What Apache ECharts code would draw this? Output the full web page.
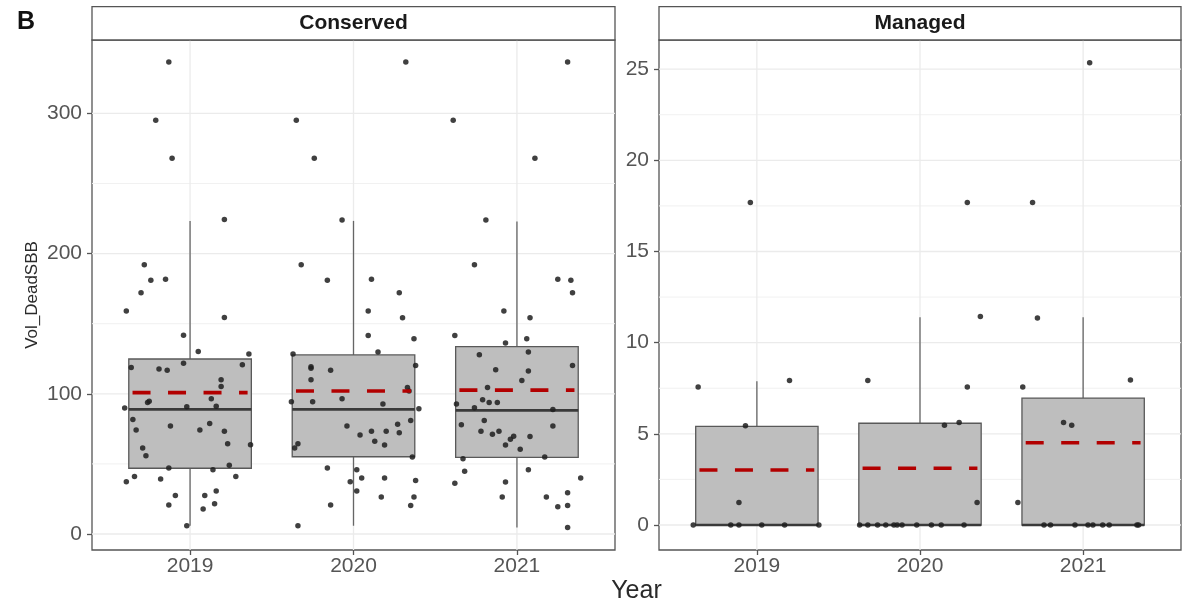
<!DOCTYPE html>
<html>
<head>
<meta charset="utf-8">
<script src="https://cdn.jsdelivr.net/npm/echarts@6/dist/echarts.min.js"></script>
<style>html,body{margin:0;padding:0;background:#fff}#c{width:1192px;height:602px}</style>
</head>
<body>
<div id="c"></div>
<script>
// ---------------- data ----------------
const categories = ['2019', '2020', '2021'];
const panelTitles = ['Conserved', 'Managed'];
const yTitle = 'Vol_DeadSBB';
const xTitle = 'Year';
const figureTag = 'B';

const consTicks = [0, 100, 200, 300];
const consMinor = [50, 150, 250];
const manTicks = [0, 5, 10, 15, 20, 25];
const manMinor = [2.5, 7.5, 12.5, 17.5, 22.5];

// box stats: [lower whisker, Q1, median, Q3, upper whisker]
const consBox = [
  [5.9, 46.9, 88.9, 124.8, 223.3],
  [5.9, 55.1, 88.9, 127.7, 223.3],
  [4.6, 54.6, 88.2, 133.7, 222.8]
];
const consMean = [100.8, 102.0, 102.6];
const manBox = [
  [0, 0, 0, 5.41, 7.89],
  [0, 0, 0, 5.58, 11.4],
  [0, 0, 0, 6.96, 11.4]
];
const manMean = [3.02, 3.11, 4.51];

// jittered points: [horizontal jitter (category units), value]
const cons2019 = [[-0.13,336.6],[-0.21,295],[-0.11,268],[0.21,224.3],[-0.28,192],[-0.24,181],[-0.15,181.7],[-0.30,172],[-0.39,159],[0.21,154.4],[-0.04,141.8],[0.05,130.2],[0.36,128.3],[-0.36,118.8],[-0.19,117.6],[-0.14,116.7],[-0.04,121.7],[0.32,120.7],[0.19,110],[0.19,105.2],[0.13,96.5],[-0.26,93.8],[-0.25,94.6],[-0.40,89.8],[-0.02,90.7],[0.16,91.2],[-0.35,81.7],[-0.33,74.1],[-0.12,77],[0.06,74.1],[0.12,78.9],[0.21,73.2],[0.23,64.4],[0.37,63.7],[-0.29,61.3],[-0.27,55.8],[-0.13,47],[0.14,45.8],[0.24,49],[0.28,41.1],[-0.39,37.3],[-0.34,41.1],[-0.18,39.2],[-0.09,27.5],[-0.13,20.7],[0.09,27.5],[0.16,30.6],[0.08,17.8],[0.15,21.6],[-0.02,5.9]];
const cons2020 = [[0.32,336.6],[-0.35,295],[-0.24,268],[-0.07,224],[-0.32,192],[-0.16,181],[0.11,181.6],[0.28,172],[0.09,159],[0.30,154.2],[0.09,141.5],[0.37,139.3],[0.15,129.8],[0.38,120.2],[0.33,104.4],[0.34,102],[0.18,92.7],[0.40,89.3],[0.35,81],[0.27,78.3],[0.11,73.3],[0.20,73.3],[0.28,72.3],[0.04,70.6],[0.13,66.1],[0.19,63.5],[0.36,54.9],[0.05,40],[0.19,40],[0.38,38.1],[0.17,26.4],[0.37,26.4],[0.35,20.4],[-0.37,128.3],[-0.26,118.3],[-0.26,119.3],[-0.14,116.7],[-0.26,110],[-0.07,96.5],[-0.25,94.3],[-0.38,94.3],[-0.04,77],[-0.34,64.4],[-0.36,61.3],[-0.16,47],[0.02,45.8],[-0.02,37.3],[0.02,30.6],[-0.14,20.7],[-0.34,5.9]];
const cons2021 = [[-0.39,295],[0.11,268],[-0.19,224],[0.31,336.6],[-0.26,192],[0.25,181.7],[0.33,181],[0.34,172],[-0.08,159],[0.08,154.2],[0.06,139.3],[-0.38,141.5],[-0.07,136.3],[-0.23,127.9],[0.07,129.8],[-0.13,117.1],[0.07,116.2],[0.34,120.2],[0.03,109.5],[-0.18,104.4],[-0.21,95.8],[-0.17,93.7],[-0.12,93.7],[-0.37,92.7],[-0.26,90],[0.22,88.8],[-0.20,81],[-0.34,78],[0.22,77.1],[-0.22,73.3],[-0.15,71.2],[-0.11,73.3],[-0.02,69.7],[-0.04,67.6],[0.08,69.5],[-0.07,63.5],[0.02,60.4],[0.17,54.9],[-0.33,53.7],[-0.32,44.8],[0.07,45.8],[-0.38,36.2],[-0.07,37.1],[0.39,40],[-0.09,26.4],[0.18,26.4],[0.31,29.5],[0.25,19.5],[0.31,20.4],[0.31,4.6]];
const man2019 = [[-0.36,7.57],[0.20,7.93],[-0.07,5.45],[-0.11,1.24],[-0.04,17.69],[-0.39,0],[-0.16,0],[-0.11,0],[0.03,0],[0.17,0],[0.38,0]];
const man2020 = [[-0.32,7.93],[0.29,17.69],[0.37,11.43],[0.29,7.57],[0.15,5.47],[0.24,5.62],[0.35,1.24],[-0.37,0],[-0.32,0],[-0.26,0],[-0.21,0],[-0.16,0],[-0.14,0],[-0.11,0],[-0.02,0],[0.07,0],[0.13,0],[0.27,0]];
const man2021 = [[0.04,25.35],[-0.31,17.69],[-0.28,11.36],[-0.37,7.57],[0.29,7.95],[-0.12,5.62],[-0.07,5.47],[-0.40,1.24],[-0.24,0],[-0.20,0],[-0.05,0],[0.03,0],[0.06,0],[0.12,0],[0.16,0],[0.33,0],[0.34,0]];

// ---------------- styling constants ----------------
const FONT = "'Liberation Sans', Arial, Helvetica, sans-serif";
const BOX_W = 0.75, MEAN_W = 0.704;
const X_MIN = -0.6, X_MAX = 2.6;
const GRID_COL = '#ebebeb', MINOR_COL = '#f1f1f1';

const consPoints = [cons2019, cons2020, cons2021];
const manPoints = [man2019, man2020, man2021];

function toXY(groups) {
  const out = [];
  groups.forEach((g, i) => g.forEach(p => out.push([i + p[0], p[1]])));
  return out;
}

function gridRender(params, api) {
  const cs = params.coordSys;
  const kind = api.value(2);
  if (kind === 2) {
    const x = api.coord([api.value(0), api.value(1)])[0];
    return {type: 'line', silent: true, shape: {x1: x, y1: cs.y, x2: x, y2: cs.y + cs.height},
      style: {stroke: GRID_COL, lineWidth: 1.3}};
  }
  const y = api.coord([api.value(0), api.value(1)])[1];
  return {type: 'line', silent: true, shape: {x1: cs.x, y1: y, x2: cs.x + cs.width, y2: y},
    style: {stroke: kind === 1 ? MINOR_COL : GRID_COL, lineWidth: kind === 1 ? 1 : 1.3}};
}

function boxRender(params, api) {
  const i = api.value(0);
  const lo = api.coord([i, api.value(1)]);
  const q1 = api.coord([i, api.value(2)]);
  const md = api.coord([i, api.value(3)]);
  const q3 = api.coord([i, api.value(4)]);
  const hi = api.coord([i, api.value(5)]);
  const hw = api.size([BOX_W, 0])[0] / 2;
  const cx = md[0];
  return {type: 'group', children: [
    {type: 'line', shape: {x1: cx, y1: hi[1], x2: cx, y2: q3[1]}, style: {stroke: '#666', lineWidth: 1.3}},
    {type: 'line', shape: {x1: cx, y1: q1[1], x2: cx, y2: lo[1]}, style: {stroke: '#666', lineWidth: 1.3}},
    {type: 'rect', shape: {x: cx - hw, y: q3[1], width: 2 * hw, height: q1[1] - q3[1]},
      style: {fill: '#bebebe', stroke: '#595959', lineWidth: 1.3}},
    {type: 'line', shape: {x1: cx - hw, y1: md[1], x2: cx + hw, y2: md[1]}, style: {stroke: '#3a3a3a', lineWidth: 2.6}}
  ]};
}

function meanRender(params, api) {
  const p = api.coord([api.value(0), api.value(1)]);
  const hw = api.size([MEAN_W, 0])[0] / 2;
  return {type: 'line', shape: {x1: p[0] - hw, y1: p[1], x2: p[0] + hw, y2: p[1]},
    style: {stroke: '#b20000', lineWidth: 3.6, lineDash: [18, 17.5]}};
}

function gridLineData(major, minor, yMin) {
  const d = [];
  major.forEach(v => d.push([X_MIN, v, 0]));
  minor.forEach(v => d.push([X_MIN, v, 1]));
  categories.forEach((c, i) => d.push([i, yMin, 2]));
  return d;
}

const grids = [
  {left: 92, top: 40, width: 523, height: 510},
  {left: 659, top: 40, width: 522, height: 510}
];
const yExt = [[-11.4, 352.3], [-1.37, 26.6]];
const yTicks = [consTicks, manTicks];
const yMinor = [consMinor, manMinor];
const boxes = [consBox, manBox];
const means = [consMean, manMean];
const pts = [consPoints, manPoints];

const option = {
  animation: false,
  backgroundColor: '#ffffff',
  grid: grids.map(g => Object.assign({show: true, borderColor: '#555', borderWidth: 1.3, backgroundColor: '#fff'}, g)),
  xAxis: grids.map((g, k) => ({
    type: 'value', gridIndex: k, min: X_MIN, max: X_MAX, position: 'bottom',
    axisLine: {show: false, onZero: false},
    splitLine: {show: false},
    axisTick: {show: true, length: 5, customValues: [0, 1, 2], lineStyle: {color: '#555', width: 1.3}},
    axisLabel: {customValues: [0, 1, 2], formatter: v => categories[Math.round(v)], color: '#555',
      fontSize: 21, fontFamily: FONT, margin: 6}
  })),
  yAxis: grids.map((g, k) => ({
    type: 'value', gridIndex: k, min: yExt[k][0], max: yExt[k][1], position: 'left',
    axisLine: {show: false, onZero: false},
    splitLine: {show: false},
    axisTick: {show: true, length: 5, customValues: yTicks[k], lineStyle: {color: '#555', width: 1.3}},
    axisLabel: {customValues: yTicks[k], color: '#555', fontSize: 21, fontFamily: FONT, margin: 10},
    name: k === 0 ? yTitle : '',
    nameLocation: 'middle', nameGap: 51,
    nameTextStyle: {fontSize: 17, color: '#2a2a2a', fontFamily: FONT}
  })),
  series: [],
  graphic: [
    {type: 'text', left: 17, top: 10, style: {text: figureTag, font: "bold 25px " + FONT, fill: '#111'}},
    {type: 'text', x: (92 + 659 + 522) / 2, y: 591,
      style: {text: xTitle, font: "25px " + FONT, fill: '#2a2a2a', align: 'center', verticalAlign: 'middle'}}
  ]
};

grids.forEach((g, k) => {
  option.graphic.push({type: 'rect', shape: {x: g.left, y: 6.7, width: g.width, height: 33.3},
    style: {fill: '#fff', stroke: '#555', lineWidth: 1.3}, z: 10});
  option.graphic.push({type: 'text', x: g.left + g.width / 2, y: 23.5,
    style: {text: panelTitles[k], font: "bold 21px " + FONT, fill: '#1a1a1a', align: 'center', verticalAlign: 'middle'}, z: 11});

  option.series.push({type: 'custom', xAxisIndex: k, yAxisIndex: k, z: 1, silent: true,
    renderItem: gridRender, data: gridLineData(yTicks[k], yMinor[k], yExt[k][0])});
  option.series.push({type: 'custom', xAxisIndex: k, yAxisIndex: k, z: 2, silent: true,
    renderItem: boxRender, data: boxes[k].map((b, i) => [i].concat(b))});
  option.series.push({type: 'scatter', xAxisIndex: k, yAxisIndex: k, z: 3, silent: true,
    symbol: 'circle', symbolSize: 5.5,
    itemStyle: {color: '#1e1e1e', opacity: 0.85},
    data: toXY(pts[k])});
  option.series.push({type: 'custom', xAxisIndex: k, yAxisIndex: k, z: 4, silent: true,
    renderItem: meanRender, data: means[k].map((m, i) => [i, m])});
});

const chart = echarts.init(document.getElementById('c'), null, {renderer: 'canvas'});
chart.setOption(option);
</script>
</body>
</html>
